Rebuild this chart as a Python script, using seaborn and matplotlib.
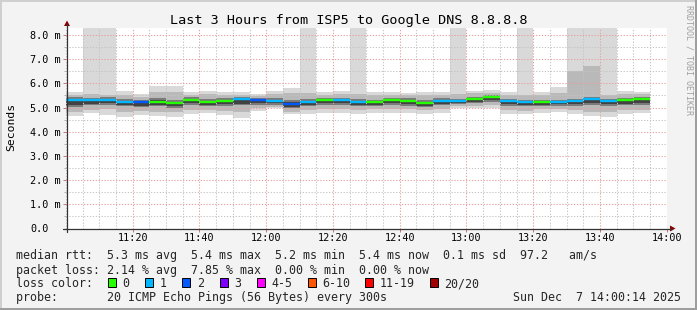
import numpy as np
import pandas as pd
import matplotlib
matplotlib.use("Agg")
import matplotlib.pyplot as plt
import seaborn as sns
from matplotlib.patches import Rectangle, Polygon
from matplotlib.lines import Line2D
from matplotlib.ticker import MultipleLocator

# ---------------- data ----------------
step_minutes = 5                      # 300 s probe interval, first step at 11:00
median_rtt = [5.32, 5.32, 5.32, 5.24, 5.24, 5.24, 5.19, 5.32, 5.24, 5.28, 5.35, 5.32,
              5.28, 5.16, 5.24, 5.32, 5.32, 5.24, 5.24, 5.32, 5.28, 5.19, 5.28, 5.28,
              5.35, 5.44, 5.27, 5.24, 5.24, 5.24, 5.27, 5.35, 5.27, 5.30, 5.35]
loss_count = [1, 1, 1, 1, 2, 0, 0, 0, 0, 0, 1, 2, 1, 2, 1, 0, 1, 1, 0, 0, 0, 0, 1, 1,
              0, 0, 1, 1, 0, 1, 1, 1, 1, 0, 0]
# smoke: outer (min/max), 2nd, 3rd and core bands (ms)
ping_max = [5.63, 12.0, 12.0, 5.68, 5.56, 5.89, 5.89, 5.64, 5.70, 5.64, 5.63, 5.56,
            5.68, 5.81, 12.0, 5.63, 5.68, 12.0, 5.63, 5.66, 5.62, 5.63, 5.64, 12.0,
            5.68, 5.72, 5.63, 12.0, 5.66, 5.86, 12.0, 12.0, 12.0, 5.70, 5.66]
ping_min = [4.66, 4.76, 4.69, 4.62, 4.69, 4.66, 4.62, 4.72, 4.79, 4.69, 4.58, 4.87,
            4.97, 4.72, 4.72, 4.76, 4.76, 4.72, 4.79, 4.79, 4.79, 4.73, 4.79, 4.98,
            4.98, 5.00, 4.72, 4.72, 4.79, 4.83, 4.72, 4.66, 4.62, 4.72, 4.76]
band2_hi = [5.52, 5.55, 5.52, 5.52, 5.45, 5.66, 5.66, 5.52, 5.57, 5.52, 5.52, 5.48,
            5.55, 5.62, 5.60, 5.52, 5.55, 5.55, 5.52, 5.52, 5.50, 5.52, 5.52, 5.55,
            5.60, 5.62, 5.50, 5.52, 5.52, 5.62, 6.53, 6.72, 5.52, 5.55, 5.57]
band2_lo = [4.83, 4.90, 4.93, 4.83, 4.86, 4.83, 4.83, 4.90, 4.90, 4.86, 4.83, 4.97,
            5.02, 4.83, 4.90, 4.93, 4.93, 4.90, 4.93, 4.95, 4.93, 4.88, 4.93, 5.05,
            5.07, 5.10, 4.88, 4.86, 4.92, 4.95, 4.88, 4.83, 4.80, 4.88, 4.88]
band3_hi = [5.43, 5.40, 5.42, 5.35, 5.32, 5.38, 5.30, 5.42, 5.35, 5.38, 5.45, 5.40,
            5.38, 5.30, 5.35, 5.40, 5.40, 5.35, 5.32, 5.40, 5.38, 5.30, 5.38, 5.36,
            5.43, 5.52, 5.35, 5.33, 5.33, 5.33, 5.36, 5.43, 5.36, 5.38, 5.42]
band3_lo = [5.03, 5.10, 5.12, 5.05, 5.03, 5.07, 5.00, 5.10, 5.07, 5.07, 5.10, 5.12,
            5.12, 4.97, 5.07, 5.10, 5.10, 5.05, 5.05, 5.12, 5.07, 5.02, 5.10, 5.14,
            5.17, 5.22, 5.07, 5.05, 5.07, 5.08, 5.07, 5.10, 5.07, 5.10, 5.12]
core_hi = [5.37, 5.36, 5.37, 5.29, 5.28, 5.30, 5.24, 5.37, 5.29, 5.33, 5.40, 5.36,
           5.33, 5.22, 5.29, 5.36, 5.36, 5.29, 5.28, 5.36, 5.33, 5.24, 5.33, 5.32,
           5.40, 5.48, 5.31, 5.29, 5.28, 5.28, 5.31, 5.39, 5.31, 5.34, 5.39]
core_lo = [5.12, 5.15, 5.18, 5.10, 5.08, 5.12, 5.05, 5.18, 5.12, 5.13, 5.16, 5.18,
           5.17, 5.03, 5.12, 5.17, 5.17, 5.10, 5.10, 5.18, 5.14, 5.07, 5.15, 5.18,
           5.22, 5.30, 5.13, 5.10, 5.12, 5.13, 5.13, 5.18, 5.13, 5.16, 5.20]

loss_labels = ["0", "1", "2", "3", "4-5", "6-10", "11-19", "20/20"]
loss_colors = ["#26ff00", "#00b8ff", "#0059ff", "#7e00ff", "#ff00ff", "#ff5500",
               "#ff0000", "#a00000"]
x_tick_labels = ["11:20", "11:40", "12:00", "12:20", "12:40", "13:00", "13:20",
                 "13:40", "14:00"]
y_tick_values = [0, 1, 2, 3, 4, 5, 6, 7, 8]
y_tick_labels = ["0.0", "1.0 m", "2.0 m", "3.0 m", "4.0 m", "5.0 m", "6.0 m",
                 "7.0 m", "8.0 m"]
title = "Last 3 Hours from ISP5 to Google DNS 8.8.8.8"
line_rtt = "median rtt:  5.3 ms avg  5.4 ms max  5.2 ms min  5.4 ms now  0.1 ms sd  97.2   am/s"
line_loss = "packet loss: 2.14 % avg  7.85 % max  0.00 % min  0.00 % now"
line_probe = "probe:       20 ICMP Echo Pings (56 Bytes) every 300s"
date_text = "Sun Dec  7 14:00:14 2025"

# ---------------- styling ----------------
sns.set_theme(style="white")
plt.rcParams["font.family"] = ["DejaVu Sans Mono"]

W, H = 697, 310
fig = plt.figure(figsize=(W / 100, H / 100), dpi=100, facecolor="#f3f3f3")


def fx(px):
    return px / W


def fy(py):
    return 1 - py / H


X0, X1 = 66.0, 666.7
Y0, Y1 = 228.5, 27.7
PX_PER_MS = 24.19
ax = fig.add_axes([fx(X0), fy(Y0), fx(X1) - fx(X0), fy(Y1) - fy(Y0)])
ax.set_facecolor("white")
ax.set_xlim(0, 180)
ax.set_ylim(0, (Y0 - Y1) / PX_PER_MS)
for s in ax.spines.values():
    s.set_visible(False)

n = len(median_rtt)
starts = np.arange(n) * step_minutes

# smoke bands, light to dark
bands = [(ping_min, ping_max, "#d9d9d9"),
         (band2_lo, band2_hi, "#b9b9b9"),
         (band3_lo, band3_hi, "#7a7a7a"),
         (core_lo, core_hi, "#424242")]
for lo, hi, col in bands:
    lo = np.array(lo)
    hi = np.array(hi)
    ax.bar(starts, hi - lo, bottom=lo, width=step_minutes, align="edge",
           color=col, linewidth=0, zorder=1)

# median lines coloured by loss (seaborn)
rows = []
for k in range(n):
    lab = loss_labels[loss_count[k]] if loss_count[k] < 4 else loss_labels[4]
    rows.append({"t": starts[k], "rtt": median_rtt[k], "seg": k, "loss": lab})
    rows.append({"t": starts[k] + step_minutes, "rtt": median_rtt[k], "seg": k, "loss": lab})
df = pd.DataFrame(rows)
palette = dict(zip(loss_labels, loss_colors))
sns.lineplot(data=df, x="t", y="rtt", hue="loss", units="seg", estimator=None,
             palette=palette, legend=False, linewidth=1.7, ax=ax, zorder=4,
             solid_capstyle="butt")
ax.set_xlabel("")
ax.set_ylabel("")

# grid
ax.xaxis.set_major_locator(MultipleLocator(20))
ax.xaxis.set_minor_locator(MultipleLocator(5))
ax.yaxis.set_major_locator(MultipleLocator(1))
ax.yaxis.set_minor_locator(MultipleLocator(0.5))
ax.set_axisbelow(False)
ax.grid(which="major", color="#e6a0a0", linestyle=(0, (1.2, 1.6)), linewidth=0.75)
ax.grid(which="minor", color="#c4c4c4", linestyle=(0, (1.2, 1.6)), linewidth=0.75)

ax.set_xticks(np.arange(20, 181, 20), x_tick_labels)
ax.set_yticks(y_tick_values, y_tick_labels, ha="left")
ax.tick_params(axis="x", which="major", length=2, width=0.7, color="#d07070",
               direction="out", pad=1.0, labelsize=7.3, labelcolor="black", bottom=True)
ax.tick_params(axis="x", which="minor", length=0)
ax.tick_params(axis="y", which="major", length=2, width=0.7, color="#d07070",
               direction="out", pad=23.9, labelsize=7.3, labelcolor="black", left=True)
ax.tick_params(axis="y", which="minor", length=1.5, width=0.7, color="#b0b0b0",
               direction="out", left=True)

# axes lines + arrows
axis_col = "#333333"
arrow_col = "#8b0000"
fig.add_artist(Line2D([fx(67), fx(67)], [fy(Y0 + 3), fy(24)], color=axis_col, lw=0.9))
fig.add_artist(Line2D([fx(63), fx(672)], [fy(Y0), fy(Y0)], color=axis_col, lw=0.9))
fig.add_artist(Polygon([[fx(64), fy(26)], [fx(70), fy(26)], [fx(67), fy(20.5)]],
                       closed=True, color=arrow_col, lw=0))
fig.add_artist(Polygon([[fx(670), fy(Y0 - 3)], [fx(670), fy(Y0 + 3)], [fx(675.5), fy(Y0)]],
                       closed=True, color=arrow_col, lw=0))

# frame shading
fig.add_artist(Rectangle((0, fy(2)), 1, fy(0) - fy(2), color="#cfcfcf", lw=0))
fig.add_artist(Rectangle((0, 0), fx(2), 1, color="#cfcfcf", lw=0))
fig.add_artist(Rectangle((0, 0), 1, 1 - fy(2), color="#9e9e9e", lw=0))
fig.add_artist(Rectangle((fx(695), 0), 1 - fx(695), 1, color="#9e9e9e", lw=0))

# texts
fig.text(fx(348.5), fy(19.3), title, ha="center", va="center_baseline",
         fontsize=9.7, color="black")
fig.text(fx(11), fy(127), "Seconds", ha="center", va="center", rotation=90,
         fontsize=8.2, color="black")
fig.text(fx(688.5), fy(5), "RRDTOOL / TOBI OETIKER", ha="center", va="top",
         rotation=270, fontsize=6.0, color="#a0a0a0")

LEG_FS = 8.4
fig.text(fx(16.4), fy(254.3), line_rtt, ha="left", va="center_baseline", fontsize=LEG_FS)
fig.text(fx(16.4), fy(268.7), line_loss, ha="left", va="center_baseline", fontsize=LEG_FS)
fig.text(fx(16.4), fy(282.3), "loss color:", ha="left", va="center_baseline", fontsize=LEG_FS)
fig.text(fx(16.4), fy(296), line_probe, ha="left", va="center_baseline", fontsize=LEG_FS)
fig.text(fx(681), fy(296), date_text, ha="right", va="center_baseline", fontsize=LEG_FS)

box_left = [108, 145, 182, 220, 257, 307.5, 365, 430]
label_left = [122, 160, 197, 234, 271, 322, 379.6, 444]
for bl, ll, lab, col in zip(box_left, label_left, loss_labels, loss_colors):
    fig.add_artist(Rectangle((fx(bl), fy(286.5)), fx(8.4), fy(278) - fy(286.5),
                             facecolor=col, edgecolor="black", lw=0.7))
    fig.text(fx(ll), fy(282.3), lab, ha="left", va="center_baseline", fontsize=LEG_FS)

fig.savefig("out.png", dpi=100, facecolor=fig.get_facecolor())
